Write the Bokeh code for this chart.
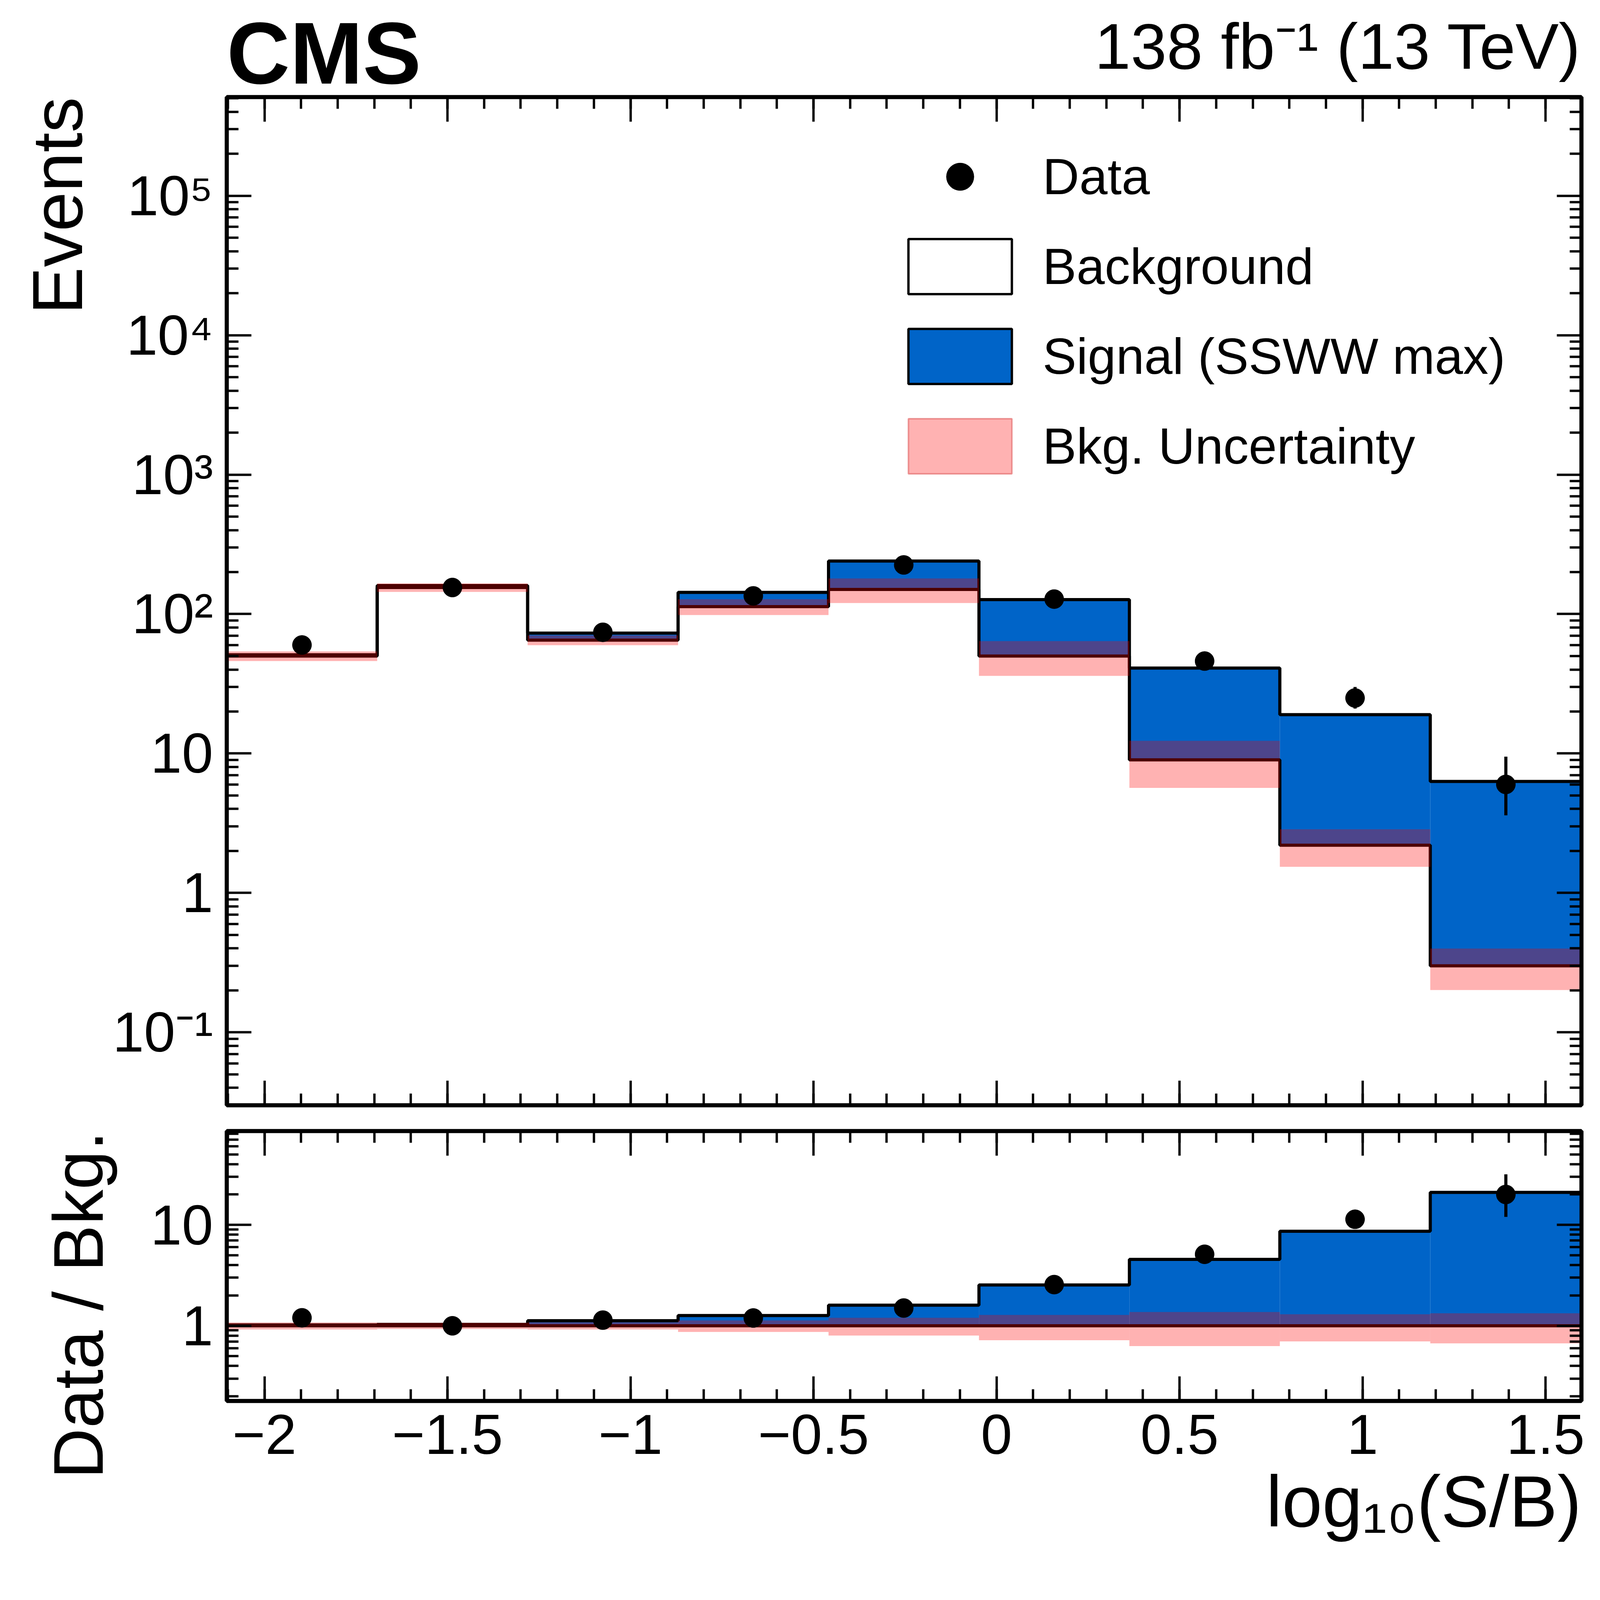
import math
from bokeh.plotting import figure
from bokeh.layouts import column
from bokeh.models import (Range1d, FixedTicker, LinearAxis, LogAxis, Legend, LegendItem, Title, Label,
                          CustomJSTickFormatter)
from bokeh.embed import file_html
from bokeh.resources import INLINE

# ---------------- data ----------------
edges = [-2.103, -1.692, -1.281, -0.870, -0.459, -0.048, 0.363, 0.774, 1.185, 1.598]
bkg = [50, 155, 65, 113, 150, 50, 9.0, 2.2, 0.30]
total = [51, 160, 73, 143, 240, 127, 41, 19, 6.3]
bkg_rel_unc = [0.08, 0.07, 0.08, 0.13, 0.20, 0.28, 0.37, 0.30, 0.33]
data = [60, 155, 74, 135, 225, 128, 46, 25, 6.0]
data_lo = [52, 143, 66, 124, 211, 117, 40, 21, 3.6]
data_hi = [68, 167, 83, 147, 240, 139, 53, 30, 9.5]
x_major = [-2, -1.5, -1, -0.5, 0, 0.5, 1, 1.5]

S = 4084 / 5798.0


def px(v):
    return int(round(v * S))


def fs(v):
    return f"{px(v)}px"


FONT = "Liberation Sans"
W = px(5798)
L, R = px(823), px(51)
BLUE = "#0064C8"
LW_FRAME = px(14)
LW = px(11)

left = edges[:-1]
right = edges[1:]
centers = [(a + b) / 2 for a, b in zip(left, right)]
x_minor = [round(-2.1 + 0.1 * i, 2) for i in range(38)]


def decade_ticks(lo, hi):
    maj, mino = [], []
    for e in range(lo, hi + 1):
        maj.append(10.0 ** e)
        for m in range(2, 10):
            mino.append(m * 10.0 ** e)
    return maj, mino


xfmt = CustomJSTickFormatter(code="return (Math.abs(tick)<1e-9?'0':String(tick)).replace('-', '\u2212');")
yfmt = CustomJSTickFormatter(code="""
const e = Math.round(Math.log10(tick));
if (e == 0) return '1';
if (e == 1) return '10';
const sup = {'0':'\u2070','1':'\u00b9','2':'\u00b2','3':'\u00b3','4':'\u2074','5':'\u2075','6':'\u2076','7':'\u2077','8':'\u2078','9':'\u2079','-':'\u207b'};
return '10' + String(e).split('').map(c => sup[c]).join('');
""")


def style_axis(ax, ticker, show_labels, fmt=None):
    ax.ticker = ticker
    ax.major_tick_in = px(89)
    ax.major_tick_out = 0
    ax.minor_tick_in = px(43)
    ax.minor_tick_out = 0
    ax.major_tick_line_width = px(8)
    ax.minor_tick_line_width = px(8)
    ax.major_tick_line_color = "black"
    ax.minor_tick_line_color = "black"
    ax.axis_line_width = LW_FRAME
    ax.axis_line_color = "black"
    if fmt is not None:
        ax.formatter = fmt
    ax.major_label_text_font = FONT
    ax.major_label_text_font_size = fs(205)
    ax.major_label_text_color = "black"
    ax.major_label_standoff = px(50)
    if not show_labels:
        ax.major_label_text_alpha = 0
        ax.major_label_text_font_size = "1px"
        ax.major_label_standoff = 0


def make_fig(height, y_range, bt, bb, yticks_maj, yticks_min, xlabels):
    p = figure(width=W, height=height, x_range=Range1d(edges[0], edges[-1]), y_range=y_range,
               y_axis_type="log", output_backend="svg", toolbar_location=None,
               min_border_left=L, min_border_right=R, min_border_top=bt, min_border_bottom=bb,
               x_axis_location=None, y_axis_location=None)
    p.grid.visible = False
    p.outline_line_color = "black"
    p.outline_line_width = LW_FRAME
    p.background_fill_color = "white"
    p.border_fill_color = "white"
    yt = FixedTicker(ticks=yticks_maj, minor_ticks=yticks_min)
    xt = FixedTicker(ticks=x_major, minor_ticks=x_minor)
    bx = LinearAxis(); style_axis(bx, xt, xlabels, xfmt); p.add_layout(bx, "below")
    tx = LinearAxis(); style_axis(tx, xt, False); p.add_layout(tx, "above")
    ly = LogAxis(); style_axis(ly, yt, True, yfmt); p.add_layout(ly, "left")
    ry = LogAxis(); style_axis(ry, yt, False); p.add_layout(ry, "right")
    return p


def title(text, size, align, standoff=0):
    return Title(text=text, text_font=FONT, text_font_size=size, align=align,
                 text_font_style="normal", text_color="black", standoff=standoff)


# ---------------- header (CMS + lumi) ----------------
HEAD_H = px(330)
h = figure(width=W, height=HEAD_H, x_range=Range1d(0, 1), y_range=Range1d(0, 1),
           output_backend="svg", toolbar_location=None, min_border=0,
           min_border_top=0, min_border_bottom=0,
           x_axis_location=None, y_axis_location=None)
h.grid.visible = False
h.outline_line_color = None
h.add_layout(Label(x=0, y=1 - 10.0 / HEAD_H, text="CMS", text_font=FONT, text_font_style="bold",
                   text_font_size=fs(318), text_color="black", text_align="left", text_baseline="top"))
h.add_layout(Label(x=1, y=1 - 25.0 / HEAD_H, text="138 fb\u207b\u00b9 (13 TeV)", text_font=FONT,
                   text_font_size=fs(235), text_color="black", text_align="right", text_baseline="top"))

# ---------------- main panel ----------------
maj, mino = decade_ticks(-2, 5)
TOP_H = px(4060) - HEAD_H
p = make_fig(TOP_H, Range1d(0.03, 5.1e5), px(352) - HEAD_H, px(44), maj, mino, False)

p.quad(left=left, right=right, bottom=bkg, top=total, fill_color=BLUE, line_alpha=0)
p.step(x=edges, y=total + [total[-1]], mode="after", line_color="black", line_width=LW)
p.step(x=edges, y=bkg + [bkg[-1]], mode="after", line_color="black", line_width=LW)
p.quad(left=left, right=right, bottom=[b * (1 - u) for b, u in zip(bkg, bkg_rel_unc)],
       top=[b * (1 + u) for b, u in zip(bkg, bkg_rel_unc)], fill_color="red", fill_alpha=0.3, line_alpha=0)
p.segment(x0=centers, x1=centers, y0=data_lo, y1=data_hi, line_color="black", line_width=LW)
p.scatter(x=centers, y=data, size=px(70), color="black")

# legend-only renderers (placed outside the visible range)
OX, OY = [-50.0], [1e-6]
r_d2 = p.scatter(x=OX, y=OY, size=px(70), color="black")
qd = dict(left=[-60.0], right=[-59.0], top=[2e-6], bottom=[1e-6])
r_b = p.quad(**qd, fill_color="white", line_color="black", line_width=px(8))
r_s = p.quad(**qd, fill_color=BLUE, line_color="black", line_width=px(8))
r_u = p.quad(**qd, fill_color="red", fill_alpha=0.3, line_color="#e06060", line_alpha=0.6, line_width=px(6))
leg = Legend(items=[LegendItem(label="Data", renderers=[r_d2]),
                    LegendItem(label="Background", renderers=[r_b]),
                    LegendItem(label="Signal (SSWW max)", renderers=[r_s]),
                    LegendItem(label="Bkg. Uncertainty", renderers=[r_u])],
             location=(px(2430), px(2270)), glyph_width=px(470), glyph_height=px(250),
             label_height=px(250), spacing=px(76), padding=0, margin=0, label_standoff=px(65),
             label_text_font=FONT, label_text_font_size=fs(185), label_text_color="black",
             border_line_alpha=0, background_fill_alpha=0)
p.add_layout(leg, "center")
p.add_layout(title("Events", fs(258), "right", standoff=px(20) + 60), "left")

# ---------------- ratio panel ----------------
maj2 = [1, 10]
mino2 = [0.2, 0.3, 0.4, 0.5, 0.6, 0.7, 0.8, 0.9, 2, 3, 4, 5, 6, 7, 8, 9, 20, 30, 40, 50, 60, 70, 80]
BOT_H = px(5724) - px(4060)
q = make_fig(BOT_H, Range1d(0.18, 85), px(49), px(633), maj2, mino2, True)

ratio_tot = [t / b for t, b in zip(total, bkg)]
q.quad(left=left, right=right, bottom=[1] * 9, top=ratio_tot, fill_color=BLUE, line_alpha=0)
q.step(x=edges, y=ratio_tot + [ratio_tot[-1]], mode="after", line_color="black", line_width=LW)
q.step(x=edges, y=[1] * 10, mode="after", line_color="black", line_width=LW)
q.quad(left=left, right=right, bottom=[1 - u for u in bkg_rel_unc], top=[1 + u for u in bkg_rel_unc],
       fill_color="red", fill_alpha=0.3, line_alpha=0)
q.segment(x0=centers, x1=centers, y0=[a / b for a, b in zip(data_lo, bkg)],
          y1=[a / b for a, b in zip(data_hi, bkg)], line_color="black", line_width=LW)
q.scatter(x=centers, y=[d / b for d, b in zip(data, bkg)], size=px(70), color="black")

q.add_layout(title("Data / Bkg.", fs(255), "right", standoff=px(20) + 150), "left")
q.add_layout(title("log\u2081\u2080(S/B)", fs(262), "right", standoff=px(40)), "below")

layout = column(h, p, q, spacing=0)
open("out.html", "w").write(file_html(layout, INLINE))
